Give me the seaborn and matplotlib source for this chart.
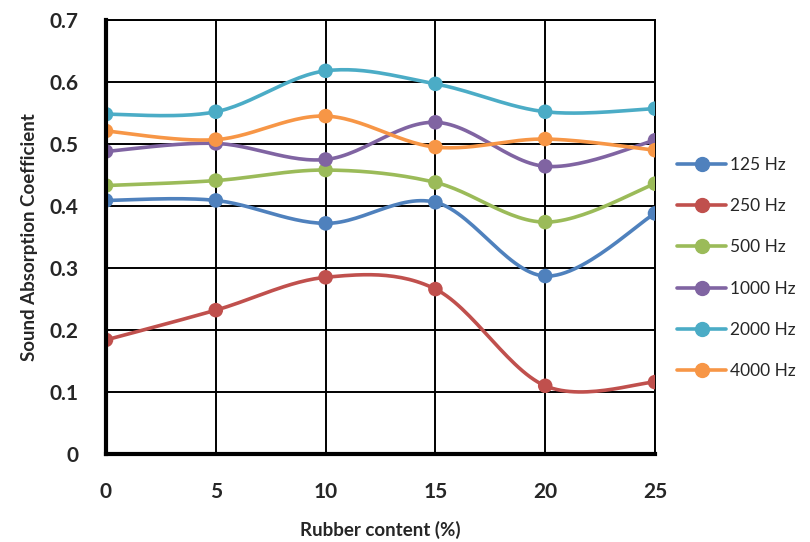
import numpy as np
import pandas as pd
import matplotlib
matplotlib.use("Agg")
import matplotlib.pyplot as plt
import seaborn as sns

# ------------------------------
# Data
rubber = [0, 5, 10, 15, 20, 25]
hz_125 = [0.409, 0.409, 0.372, 0.406, 0.287, 0.388]
hz_250 = [0.184, 0.232, 0.285, 0.266, 0.110, 0.116]
hz_500 = [0.433, 0.441, 0.458, 0.438, 0.374, 0.436]
hz_1000 = [0.488, 0.501, 0.475, 0.535, 0.464, 0.506]
hz_2000 = [0.548, 0.552, 0.618, 0.597, 0.552, 0.557]
hz_4000 = [0.521, 0.507, 0.545, 0.495, 0.508, 0.490]
labels = ["125 Hz", "250 Hz", "500 Hz", "1000 Hz", "2000 Hz", "4000 Hz"]
colors = ["#4F81BD", "#C0504D", "#9BBB59", "#8064A2", "#4BACC6", "#F79646"]

series = [hz_125, hz_250, hz_500, hz_1000, hz_2000, hz_4000]
df = pd.concat([pd.DataFrame({"rubber": rubber, "value": s, "freq": lab})
                for s, lab in zip(series, labels)], ignore_index=True)


def smooth(x, y, n=30):
    # Excel-style smoothed line (Catmull-Rom bezier)
    x = np.asarray(x, float)
    y = np.asarray(y, float)
    px = np.concatenate([[x[0]], x, [x[-1]]])
    py = np.concatenate([[y[0]], y, [y[-1]]])
    xs, ys = [], []
    t = np.linspace(0, 1, n)
    for i in range(1, len(px) - 2):
        p0 = np.array([px[i], py[i]])
        p3 = np.array([px[i + 1], py[i + 1]])
        p1 = p0 + (np.array([px[i + 1], py[i + 1]]) - np.array([px[i - 1], py[i - 1]])) / 6
        p2 = p3 - (np.array([px[i + 2], py[i + 2]]) - np.array([px[i], py[i]])) / 6
        b = ((1 - t) ** 3)[:, None] * p0 + (3 * (1 - t) ** 2 * t)[:, None] * p1 \
            + (3 * (1 - t) * t ** 2)[:, None] * p2 + (t ** 3)[:, None] * p3
        xs.extend(b[:, 0])
        ys.extend(b[:, 1])
    return np.array(xs), np.array(ys)


sns.set_style("white")
plt.rcParams['font.family'] = ['Lato', 'DejaVu Sans']

fig = plt.figure(figsize=(8.1, 5.42), dpi=100)
ax = fig.add_axes([106 / 810, 1 - 454 / 542, 549 / 810, 434 / 542])

for lab, col in zip(labels, colors):
    sub = df[df["freq"] == lab]
    sx, sy = smooth(sub["rubber"], sub["value"])
    ax.plot(sx, sy, color=col, lw=2.6, zorder=3)
    sns.scatterplot(data=sub, x="rubber", y="value", color=col, s=110,
                    edgecolor="none", ax=ax, zorder=4)
    ax.plot([], [], color=col, lw=2.6, marker="o", markersize=10, label=lab)

ax.set_xlim(0, 25)
ax.set_ylim(0, 0.7)
ax.set_xticks(rubber)
ax.set_yticks(np.arange(0, 0.71, 0.1))
ax.set_yticklabels(["0", "0.1", "0.2", "0.3", "0.4", "0.5", "0.6", "0.7"])
ax.grid(True, color="black", lw=1.4)
ax.set_axisbelow(True)
for side in ["top", "right"]:
    ax.spines[side].set_linewidth(1.4)
    ax.spines[side].set_color("black")
for side in ["left", "bottom"]:
    ax.spines[side].set_linewidth(3)
    ax.spines[side].set_color("black")
    ax.spines[side].set_zorder(5)

ax.tick_params(axis="both", labelsize=15, length=0)
ax.tick_params(axis="x", pad=20)
ax.tick_params(axis="y", pad=20)
for t in ax.get_xticklabels() + ax.get_yticklabels():
    t.set_fontweight("bold")

ax.set_xlabel("Rubber content (%)", fontsize=13.5, fontweight="bold", labelpad=14)
ax.set_ylabel("Sound Absorption Coefficient", fontsize=13.5, fontweight="bold", labelpad=8)

ax.legend(loc="upper left", bbox_to_anchor=(1.012, 0.72), frameon=False,
          fontsize=12.5, labelspacing=1.45, handlelength=2.8, handletextpad=0.25)

fig.savefig("out.png", dpi=100)
plt.close(fig)
